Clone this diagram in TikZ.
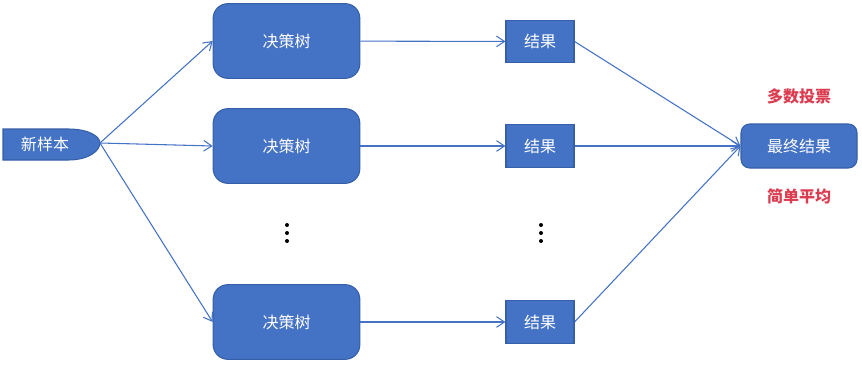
\documentclass[tikz,border=0pt]{standalone}
\usepackage{fontspec}
\setmainfont{Noto Sans CJK SC}
\usetikzlibrary{arrows.meta}
\definecolor{boxblue}{HTML}{4472C4}
\definecolor{edgeblue}{HTML}{3560A8}
\definecolor{votered}{HTML}{DC3C50}
\begin{document}
\begin{tikzpicture}[x=0.75pt, y=-0.75pt,
  tree/.style={draw=edgeblue, fill=boxblue, rounded corners=11pt, line width=0.8pt,
               minimum width=110pt, minimum height=56pt, text=white, font=\fontsize{12}{14}\selectfont},
  res/.style={draw=edgeblue, fill=boxblue, line width=0.8pt,
              minimum width=51pt, minimum height=32pt, text=white, font=\fontsize{12}{14}\selectfont},
  final/.style={draw=edgeblue, fill=boxblue, rounded corners=6.5pt, line width=0.8pt,
                minimum width=87pt, minimum height=33pt, text=white, font=\fontsize{12}{14}\selectfont},
  vote/.style={text=votered, font=\fontsize{12}{14}\selectfont\bfseries},
  arr/.style={draw=boxblue, line width=0.8pt, -{Straight Barb[length=6pt, width=8pt]}}
]
\useasboundingbox (0,0) rectangle (862,364);
% new sample shape
\filldraw[fill=boxblue, draw=edgeblue, line width=0.8pt]
  (3,129) -- (68,129) .. controls (90,129) and (100,137) .. (100,143)
  .. controls (100,150) and (90,160) .. (68,160) -- (3,160) -- cycle;
\coordinate (tip) at (100,143);
\node[text=white, font=\fontsize{12}{14}\selectfont] (new) at (45,144) {新样本};
\node[tree]  (t1)  at (286.5, 41)  {决策树};
\node[tree]  (t2)  at (286.5, 146) {决策树};
\node[tree]  (t3)  at (286.5, 322) {决策树};
\node[res]   (r1)  at (540, 41.5)  {结果};
\node[res]   (r2)  at (540, 146)   {结果};
\node[res]   (r3)  at (540, 322)   {结果};
\node[final] (fin) at (799, 146)   {最终结果};
\node[vote]  (v1)  at (799, 96)    {多数投票};
\node[vote]  (v2)  at (799, 196)   {简单平均};
% vertical dots
\foreach \x in {287, 541}
  \foreach \y in {225, 233, 241}
    \fill (\x,\y) circle (2);
\draw[arr] (tip) -- (t1.west);
\draw[arr] (tip) -- (t2.west);
\draw[arr] (tip) -- (t3.west);
\draw[arr] (t1) -- (r1);
\draw[arr] (t2) -- (r2);
\draw[arr] (t3) -- (r3);
\draw[arr] (r1.east) -- (fin.west);
\draw[arr] (r2.east) -- (fin.west);
\draw[arr] (r3.east) -- (fin.west);
\end{tikzpicture}
\end{document}
